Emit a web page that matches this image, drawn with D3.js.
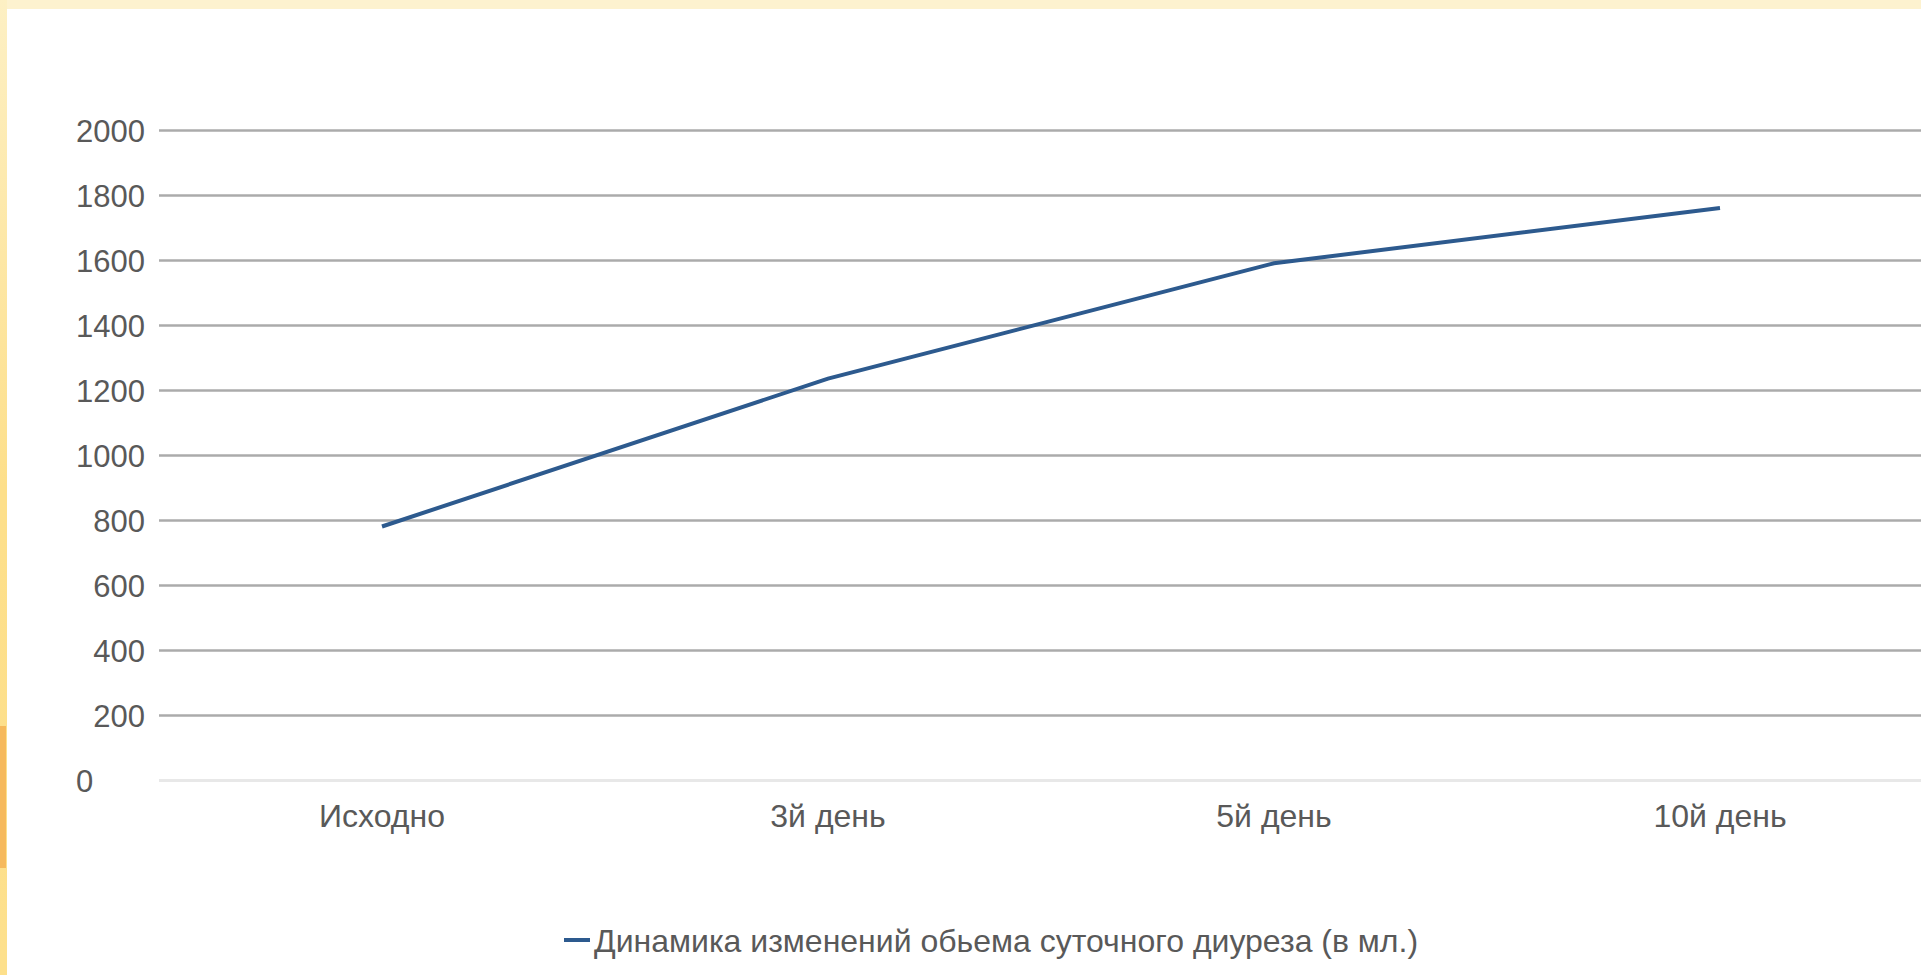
<!DOCTYPE html>
<html>
<head>
<meta charset="utf-8">
<script src="https://cdn.jsdelivr.net/npm/d3@7"></script>
<style>
  html, body { margin: 0; padding: 0; background: #fff; overflow: hidden; }
  svg text { font-family: "Liberation Sans", Arial, sans-serif; fill: #595959; }
</style>
</head>
<body>
<svg id="chart" width="1921" height="975"></svg>
<script>
/* Daily diuresis line chart */

const categories = ["Исходно", "3й день", "5й день", "10й день"];
const diuresis = [780, 1235, 1590, 1760];
const yTicks = [0, 200, 400, 600, 800, 1000, 1200, 1400, 1600, 1800, 2000];
const seriesName = "Динамика изменений обьема суточного диуреза (в мл.)";

const W = 1921, H = 975;
const M = { left: 159, top: 130, bottom: 195 };
const bandW = 446;

const svg = d3.select("#chart");

// slide frame around the chart (yellow strips)
const defs = svg.append("defs");
const lg = defs.append("linearGradient").attr("id", "side").attr("x1", 0).attr("y1", 0).attr("x2", 0).attr("y2", 1);
lg.append("stop").attr("offset", 0).attr("stop-color", "#fdf0c4");
lg.append("stop").attr("offset", 0.5).attr("stop-color", "#fddf8a");
lg.append("stop").attr("offset", 1).attr("stop-color", "#fde08c");
svg.append("rect").attr("width", W).attr("height", 9).attr("fill", "#fdf2cf");
svg.append("rect").attr("width", 7).attr("height", H).attr("fill", "url(#side)");
svg.append("rect").attr("y", 726).attr("width", 6).attr("height", 142).attr("fill", "#f6b95c");

const x = d3.scaleBand().domain(categories).range([M.left, M.left + bandW * categories.length]);
const y = d3.scaleLinear().domain([0, 2000]).range([H - M.bottom, M.top]);

// gridlines
const grid = svg.append("g")
  .attr("transform", `translate(${M.left},0)`)
  .call(d3.axisLeft(y).tickValues(yTicks).tickSize(-(W - M.left)).tickFormat(""));
grid.select(".domain").remove();
grid.selectAll(".tick line")
  .attr("stroke", (d) => d === 0 ? "#e8e8e8" : "#ababab")
  .attr("stroke-width", (d) => d === 0 ? 3 : 2.5);

// y labels
const yAx = svg.append("g")
  .attr("transform", `translate(${M.left - 14},0)`)
  .call(d3.axisLeft(y).tickValues(yTicks).tickSize(0).tickPadding(0).tickFormat(d3.format("d")));
yAx.select(".domain").remove();
yAx.selectAll("text").attr("font-size", 31).attr("dy", "0.36em");
yAx.selectAll(".tick text").filter((d) => d === 0).attr("x", -69).attr("text-anchor", "start");

// x labels
const xAx = svg.append("g")
  .attr("transform", `translate(0,${H - M.bottom})`)
  .call(d3.axisBottom(x).tickSize(0).tickPadding(0));
xAx.select(".domain").remove();
xAx.selectAll("text").attr("font-size", 32).attr("y", 35).attr("dy", "0.36em");

// series line
const line = d3.line()
  .x((d, i) => x(categories[i]) + x.bandwidth() / 2)
  .y((d) => y(d));
svg.append("path")
  .datum(diuresis)
  .attr("fill", "none")
  .attr("stroke", "#2d5a8e")
  .attr("stroke-width", 4)
  .attr("d", line);

// legend
const leg = svg.append("g").attr("transform", "translate(564,940)");
leg.append("line").attr("x1", 0).attr("x2", 26).attr("stroke", "#2d5a8e").attr("stroke-width", 4);
leg.append("text").attr("x", 30).attr("dy", "0.36em").attr("font-size", 32).text(seriesName);
</script>
</body>
</html>
